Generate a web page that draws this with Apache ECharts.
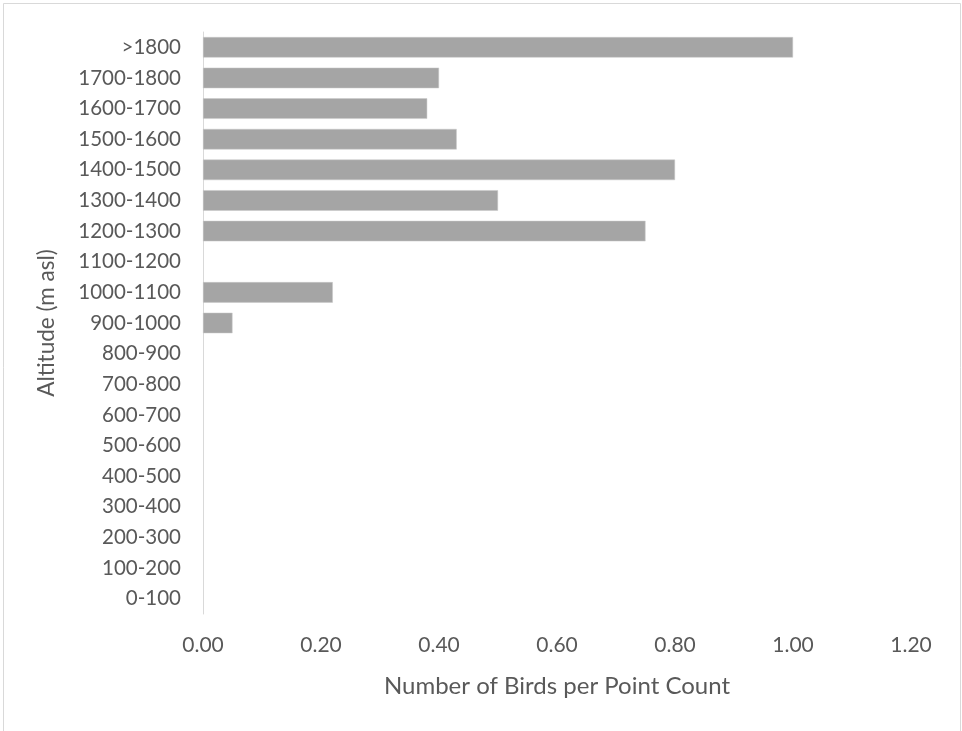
<!DOCTYPE html>
<html>
<head>
<meta charset="utf-8">
<script src="https://cdn.jsdelivr.net/npm/echarts@6/dist/echarts.min.js"></script>
<style>
html,body{margin:0;padding:0;background:#fff;}
#chart{width:962px;height:731px;}
</style>
</head>
<body>
<div id="chart"></div>
<script>
const categories = ["0-100","100-200","200-300","300-400","400-500","500-600","600-700","700-800","800-900","900-1000","1000-1100","1100-1200","1200-1300","1300-1400","1400-1500","1500-1600","1600-1700","1700-1800",">1800"];
const values = [null,null,null,null,null,null,null,null,null,0.05,0.22,null,0.75,0.50,0.80,0.43,0.38,0.40,1.00];
const xTicks = [0,0.2,0.4,0.6,0.8,1.0,1.2];
const xTitle = "Number of Birds per Point Count";
const yTitle = "Altitude (m asl)";

const chart = echarts.init(document.getElementById('chart'), null, {renderer:'canvas'});
const font = 'Lato';
chart.setOption({
  animation:false,
  backgroundColor:'#ffffff',
  graphic:[{
    type:'rect', silent:true,
    shape:{x:3.5,y:3.5,width:957,height:800},
    style:{fill:'none',stroke:'#d9d9d9',lineWidth:1}
  }],
  grid:{left:203,right:51,top:32,bottom:117,containLabel:false},
  xAxis:{
    type:'value', min:xTicks[0], max:xTicks[xTicks.length-1], interval:0.2,
    axisLine:{show:false}, axisTick:{show:false}, splitLine:{show:false},
    axisLabel:{formatter:v=>v.toFixed(2), color:'#595959', fontFamily:font, fontSize:21, margin:21},
    name:xTitle, nameLocation:'middle', nameGap:60,
    nameTextStyle:{color:'#595959', fontFamily:font, fontSize:24}
  },
  yAxis:{
    type:'category', data:categories,
    axisLine:{show:true, lineStyle:{color:'#d9d9d9', width:1}},
    axisTick:{show:false},
    axisLabel:{color:'#595959', fontFamily:font, fontSize:20.5, margin:22},
    name:yTitle, nameLocation:'middle', nameGap:145, nameRotate:90,
    nameTextStyle:{color:'#595959', fontFamily:font, fontSize:22.5}
  },
  series:[{
    type:'bar', data:values, barCategoryGap:'33%',
    itemStyle:{color:'#a5a5a5', borderColor:'#c8c8c8', borderWidth:0.5}
  }]
});
</script>
</body>
</html>
